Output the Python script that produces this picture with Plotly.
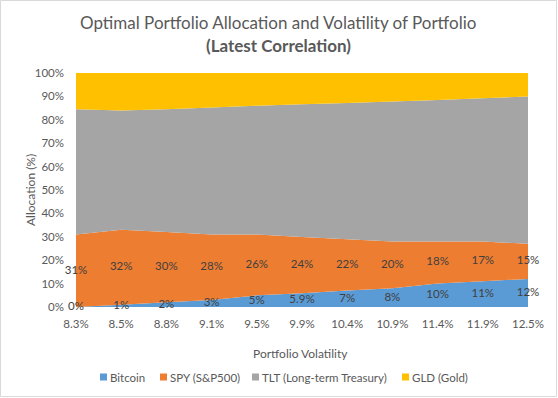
import plotly.graph_objects as go

categories = ["8.3%", "8.5%", "8.8%", "9.1%", "9.5%", "9.9%", "10.4%", "10.9%", "11.4%", "11.9%", "12.5%"]
bitcoin = [0, 1, 2, 3, 5, 5.9, 7, 8, 10, 11, 12]
spy = [31, 32, 30, 28, 26, 24, 22, 20, 18, 17, 15]
gld = [15.5, 16, 15.5, 14.7, 14, 13.4, 12.8, 12.2, 11.5, 10.8, 10]
tlt = [round(100 - b - s - g, 1) for b, s, g in zip(bitcoin, spy, gld)]
bitcoin_labels = ["0%", "1%", "2%", "3%", "5%", "5.9%", "7%", "8%", "10%", "11%", "12%"]
spy_labels = ["31%", "32%", "30%", "28%", "26%", "24%", "22%", "20%", "18%", "17%", "15%"]
series_names = ["Bitcoin", "SPY (S&P500)", "TLT (Long-term Treasury)", "GLD (Gold)"]
series_colors = ["#5B9BD5", "#ED7D31", "#A5A5A5", "#FFC000"]

W, H = 558, 398
L, R, T, B = 76, 30, 73, 91
pw, ph = W - L - R, H - T - B

def px_x(p):
    return (p - L) / pw

def px_y(p):
    return (H - B - p) / ph

xs = list(range(len(categories)))
fig = go.Figure()
for name, vals, col in zip(series_names, [bitcoin, spy, tlt, gld], series_colors):
    fig.add_trace(go.Scatter(x=xs, y=vals, name=name, stackgroup="one", mode="none",
                             fillcolor=col, line=dict(width=0), hoverinfo="skip", showlegend=False))

lab_font = dict(family="Lato, sans-serif", size=11.5, color="#404040")
fig.add_trace(go.Scatter(x=xs, y=[b / 2 for b in bitcoin], mode="text", text=bitcoin_labels,
                         textfont=lab_font, showlegend=False, hoverinfo="skip", cliponaxis=False))
fig.add_trace(go.Scatter(x=xs, y=[b + s / 2 for b, s in zip(bitcoin, spy)], mode="text",
                         text=spy_labels, textfont=lab_font, showlegend=False, hoverinfo="skip",
                         cliponaxis=False))

tick_font = dict(family="Lato, sans-serif", size=11.5, color="#595959")
fig.update_xaxes(range=[0, len(categories) - 1], tickvals=xs, ticktext=categories,
                 tickfont=tick_font, showgrid=False, zeroline=False, showline=False, ticks="",
                 ticklabelstandoff=8, fixedrange=True, automargin=False)
fig.update_yaxes(range=[0, 100], tickvals=list(range(0, 101, 10)),
                 ticktext=[f"{v}%" for v in range(0, 101, 10)], tickfont=tick_font,
                 showgrid=False, zeroline=False, showline=False, ticks="",
                 ticklabelstandoff=11, fixedrange=True, automargin=False)

annotations = [
    dict(text="Optimal Portfolio Allocation and Volatility of Portfolio", xref="paper", yref="paper",
         x=px_x(W / 2 - 1), y=px_y(22), showarrow=False, font=dict(size=17, color="#595959"),
         xanchor="center", yanchor="middle"),
    dict(text="<b>(Latest Correlation)</b>", xref="paper", yref="paper",
         x=px_x(W / 2 - 1), y=px_y(46), showarrow=False, font=dict(size=17, color="#595959"),
         xanchor="center", yanchor="middle"),
    dict(text="Portfolio Volatility", xref="paper", yref="paper",
         x=px_x(300), y=px_y(353), showarrow=False, font=dict(size=12, color="#595959"),
         xanchor="center", yanchor="middle"),
    dict(text="Allocation (%)", xref="paper", yref="paper", textangle=-90,
         x=px_x(30), y=px_y(190), showarrow=False, font=dict(size=12, color="#595959"),
         xanchor="center", yanchor="middle"),
]
shapes = [dict(type="rect", xref="paper", yref="paper",
               x0=px_x(0.5), x1=px_x(W - 1.5), y0=px_y(H - 1.5), y1=px_y(0.5),
               line=dict(color="#D9D9D9", width=1), fillcolor="rgba(0,0,0,0)", layer="below")]

legend_x = [100, 160, 252, 402]
ly = 377
for lx, name, col in zip(legend_x, series_names, series_colors):
    shapes.append(dict(type="rect", xref="paper", yref="paper",
                       x0=px_x(lx), x1=px_x(lx + 7), y0=px_y(ly + 3.5), y1=px_y(ly - 3.5),
                       line=dict(width=0), fillcolor=col))
    annotations.append(dict(text=name, xref="paper", yref="paper", x=px_x(lx + 8), y=px_y(ly),
                            showarrow=False, xanchor="left", yanchor="middle",
                            font=dict(size=11.5, color="#595959")))

fig.update_layout(
    width=W, height=H, margin=dict(l=L, r=R, t=T, b=B, autoexpand=False),
    paper_bgcolor="white", plot_bgcolor="white",
    font=dict(family="Lato, sans-serif", color="#595959"),
    showlegend=False,
    annotations=annotations,
    shapes=shapes,
)

fig.write_html("out.html", config={"displayModeBar": False},
               post_script="document.body.style.margin='0';document.body.style.padding='0';")
